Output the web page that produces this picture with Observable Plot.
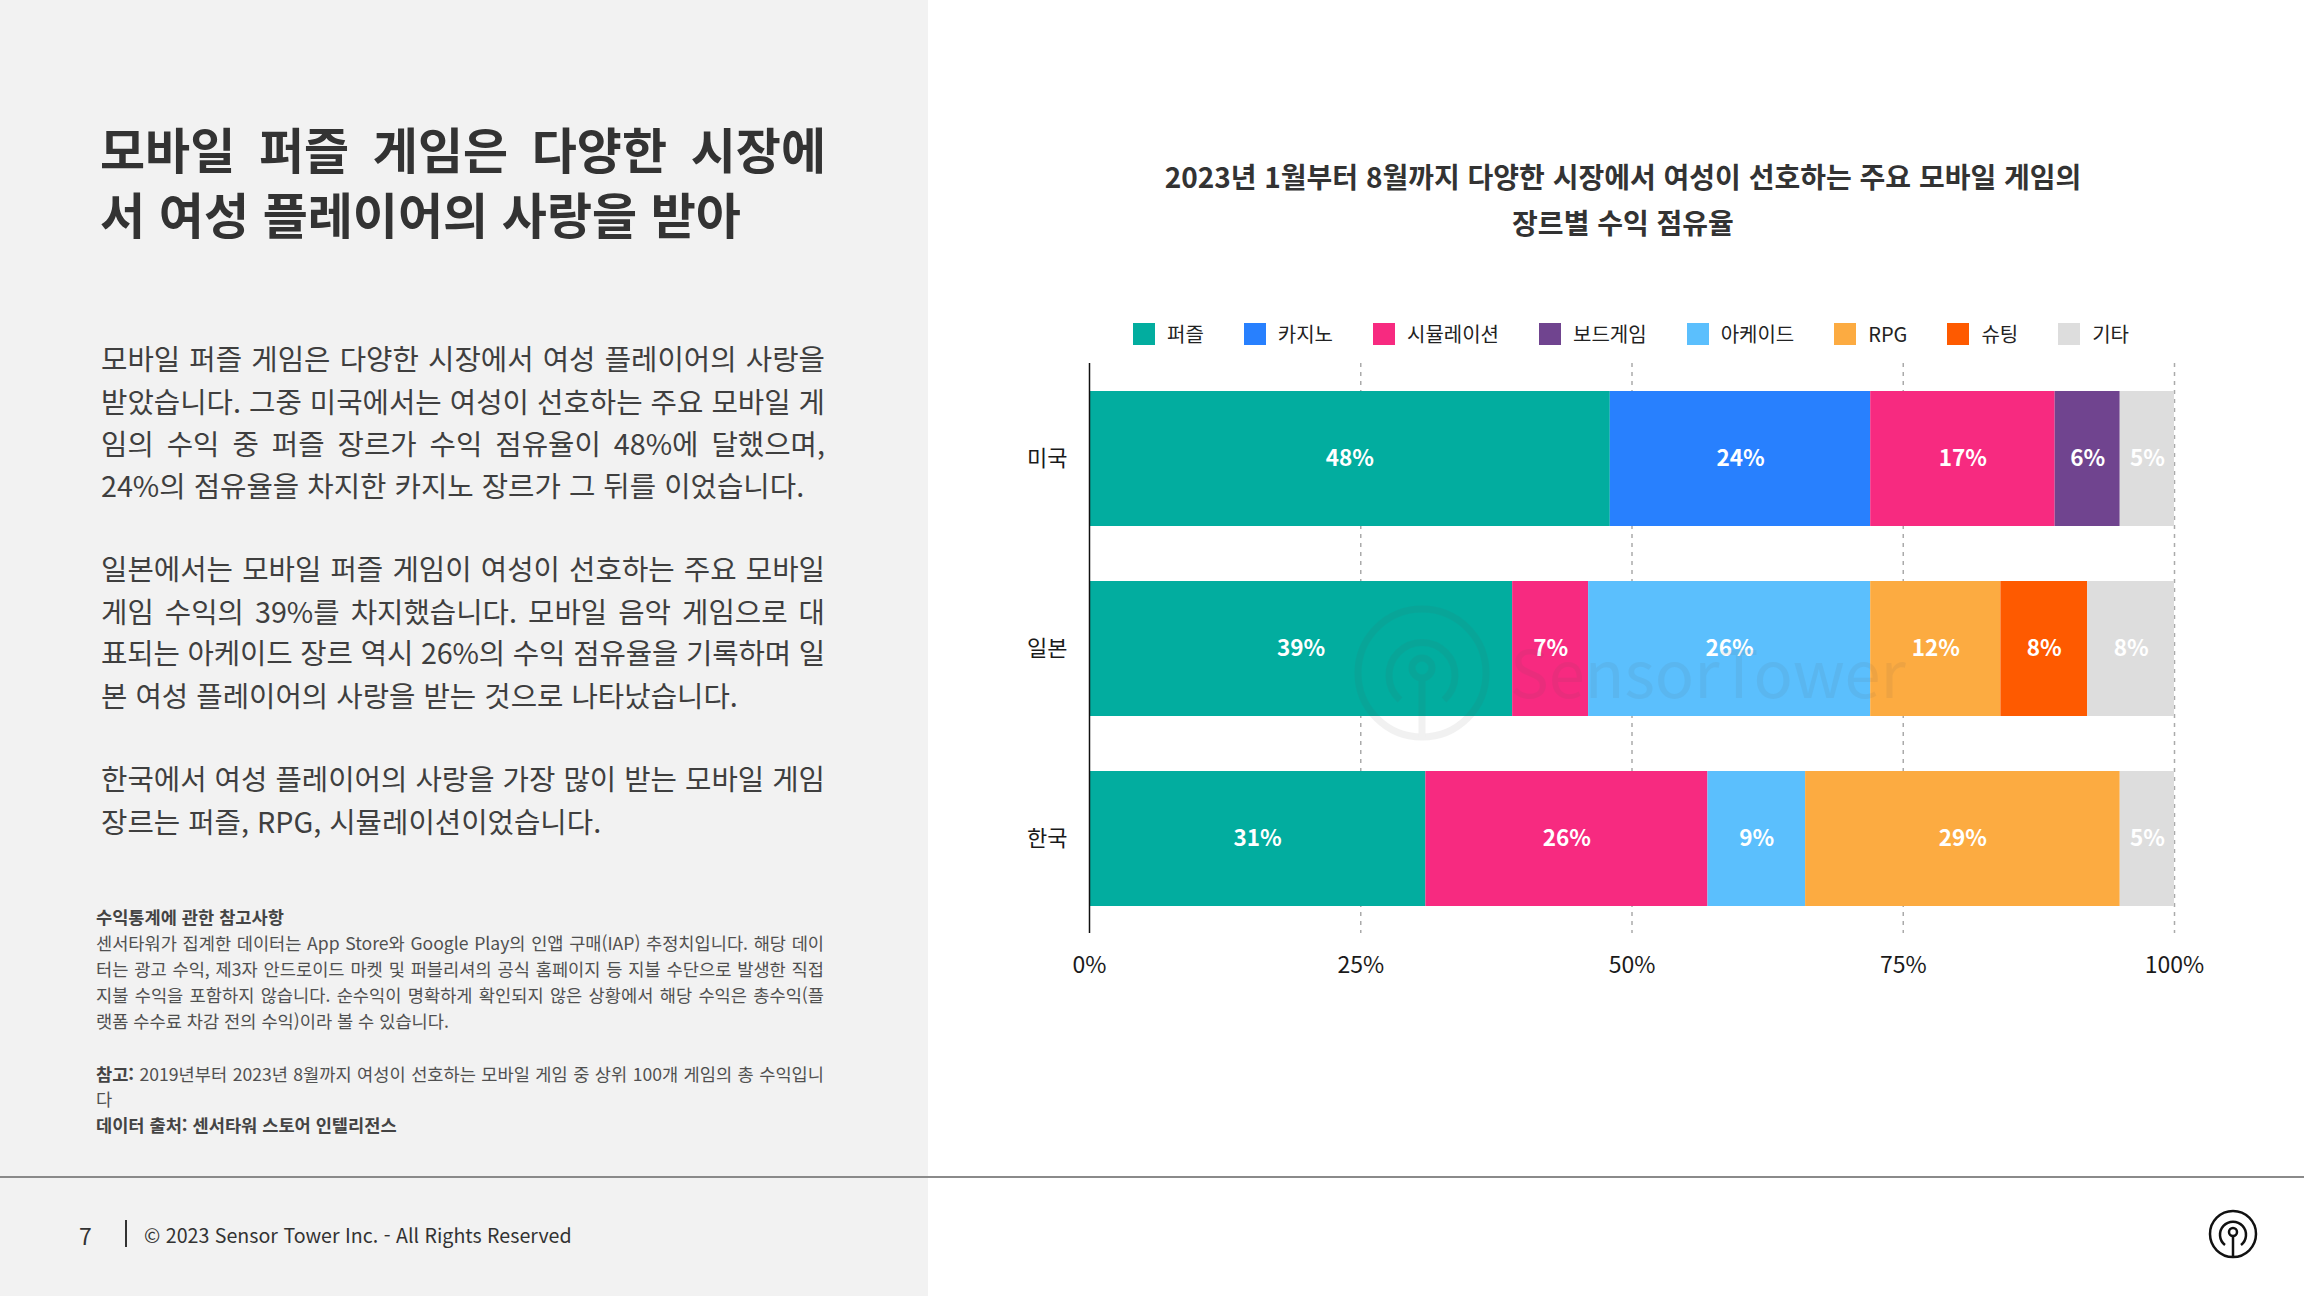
<!DOCTYPE html>
<html lang="ko">
<head>
<meta charset="utf-8">
<script src="https://cdn.jsdelivr.net/npm/d3@7"></script>
<script src="https://cdn.jsdelivr.net/npm/@observablehq/plot@0.6"></script>
<style>
  html, body { margin: 0; padding: 0; }
  body {
    width: 2304px; height: 1296px; position: relative; overflow: hidden;
    background: #ffffff;
    font-family: "Noto Sans CJK KR", "Noto Sans", sans-serif;
    color: #333;
  }
  .panel { position: absolute; left: 0; top: 0; width: 928px; height: 1296px; background: #f2f2f2; }
  .line { position: absolute; white-space: nowrap; }
  .just { text-align: justify; text-align-last: justify; }
  .head { font-size: 49px; font-weight: 700; color: #333; height: 64px; line-height: 64px; width: 726px; left: 100px; }
  .body { font-size: 28.7px; font-weight: 400; color: #3f3f3f; height: 42px; line-height: 42px; width: 724px; left: 101px; }
  .note { font-size: 17.6px; font-weight: 400; color: #505050; height: 26px; line-height: 26px; width: 728px; left: 96px; }
  .note b { font-weight: 700; color: #444; }
  .rule { position: absolute; left: 0; top: 1176px; width: 2304px; height: 2px; background: #8a8a8a; }
  .ctitle { position: absolute; left: 1023px; width: 1200px; text-align: center; font-size: 28px; font-weight: 700; color: #333; height: 46px; line-height: 46px; }
  #legend { position: absolute; top: 320px; left: 1131px; width: 1000px; display: flex; justify-content: center; gap: 40px; font-size: 20px; color: #222; height: 28px; line-height: 28px; }
  #legend .item { display: flex; align-items: center; gap: 12px; }
  #legend .sw { width: 22px; height: 22px; display: inline-block; }
  #chart { position: absolute; left: 960px; top: 350px; }
  .overlay { position: absolute; left: 0; top: 0; pointer-events: none; }
  .foot { position: absolute; color: #333; white-space: nowrap; }
</style>
</head>
<body>
<div class="panel"></div>

<!-- headline -->
<div class="line head just" style="top:116px">모바일 퍼즐 게임은 다양한 시장에</div>
<div class="line head" style="top:181px">서 여성 플레이어의 사랑을 받아</div>

<!-- body copy -->
<div class="line body just" style="top:337px">모바일 퍼즐 게임은 다양한 시장에서 여성 플레이어의 사랑을</div>
<div class="line body just" style="top:380px">받았습니다. 그중 미국에서는 여성이 선호하는 주요 모바일 게</div>
<div class="line body just" style="top:422px">임의 수익 중 퍼즐 장르가 수익 점유율이 48%에 달했으며,</div>
<div class="line body" style="top:464px">24%의 점유율을 차지한 카지노 장르가 그 뒤를 이었습니다.</div>

<div class="line body just" style="top:547px">일본에서는 모바일 퍼즐 게임이 여성이 선호하는 주요 모바일</div>
<div class="line body just" style="top:590px">게임 수익의 39%를 차지했습니다. 모바일 음악 게임으로 대</div>
<div class="line body just" style="top:631px">표되는 아케이드 장르 역시 26%의 수익 점유율을 기록하며 일</div>
<div class="line body" style="top:674px">본 여성 플레이어의 사랑을 받는 것으로 나타났습니다.</div>

<div class="line body just" style="top:757px">한국에서 여성 플레이어의 사랑을 가장 많이 받는 모바일 게임</div>
<div class="line body" style="top:800px">장르는 퍼즐, RPG, 시뮬레이션이었습니다.</div>

<!-- notes -->
<div class="line note" style="top:904px"><b>수익통계에 관한 참고사항</b></div>
<div class="line note just" style="top:930px">센서타워가 집계한 데이터는 App Store와 Google Play의 인앱 구매(IAP) 추정치입니다. 해당 데이</div>
<div class="line note just" style="top:956px">터는 광고 수익, 제3자 안드로이드 마켓 및 퍼블리셔의 공식 홈페이지 등 지불 수단으로 발생한 직접</div>
<div class="line note just" style="top:982px">지불 수익을 포함하지 않습니다. 순수익이 명확하게 확인되지 않은 상황에서 해당 수익은 총수익(플</div>
<div class="line note" style="top:1008px">랫폼 수수료 차감 전의 수익)이라 볼 수 있습니다.</div>
<div class="line note just" style="top:1061px"><b>참고:</b> 2019년부터 2023년 8월까지 여성이 선호하는 모바일 게임 중 상위 100개 게임의 총 수익입니</div>
<div class="line note" style="top:1086px">다</div>
<div class="line note" style="top:1112px"><b>데이터 출처: 센서타워 스토어 인텔리전스</b></div>

<div class="rule"></div>

<!-- footer -->
<div class="foot" style="left:79px; top:1219px; font-size:23px; line-height:32px;">7</div>
<div style="position:absolute; left:125px; top:1220px; width:1.5px; height:27px; background:#333;"></div>
<div class="foot" style="left:144px; top:1220px; font-size:19.6px; line-height:30px;">© 2023 Sensor Tower Inc. - All Rights Reserved</div>

<!-- chart title -->
<div class="ctitle" style="top:153px">2023년 1월부터 8월까지 다양한 시장에서 여성이 선호하는 주요 모바일 게임의</div>
<div class="ctitle" style="top:199px">장르별 수익 점유율</div>

<div id="legend"></div>
<div id="chart"></div>

<svg class="overlay" width="2304" height="1296">
  <!-- faint brand watermark over the plot -->
  <g opacity="0.08" fill="none" stroke="#555">
    <circle cx="1422" cy="673" r="64" stroke-width="7"/>
    <path d="M 1400 700 A 33 33 0 1 1 1444 700" stroke-width="7"/>
    <circle cx="1422" cy="668" r="10" stroke-width="7"/>
    <line x1="1422" y1="678" x2="1422" y2="737" stroke-width="7"/>
  </g>
  <text x="1510" y="698" font-family="Noto Sans CJK KR, sans-serif" font-size="65" fill="#555" opacity="0.08">SensorTower</text>
  <!-- footer brand mark -->
  <g fill="none" stroke="#111" stroke-width="2.5">
    <circle cx="2233" cy="1234" r="23"/>
    <path d="M 2225 1245 A 13 13 0 1 1 2241 1245"/>
    <circle cx="2233" cy="1232" r="4"/>
    <line x1="2233" y1="1236" x2="2233" y2="1257"/>
  </g>
</svg>

<script>
// Countries (bands) and genre stack order
const countries = ["미국", "일본", "한국"];
const genres = ["퍼즐", "카지노", "시뮬레이션", "보드게임", "아케이드", "RPG", "슈팅", "기타"];
const genreColors = ["#02ad9f", "#2880fe", "#f72a80", "#70448f", "#5bbffd", "#fcab41", "#fe5a00", "#dddddd"];

// Revenue share (%) by genre, Jan–Aug 2023
const usGenres = ["퍼즐", "카지노", "시뮬레이션", "보드게임", "기타"];
const usShares = [48, 24, 17, 6, 5];
const jpGenres = ["퍼즐", "시뮬레이션", "아케이드", "RPG", "슈팅", "기타"];
const jpShares = [39, 7, 26, 12, 8, 8];
const krGenres = ["퍼즐", "시뮬레이션", "아케이드", "RPG", "기타"];
const krShares = [31, 26, 9, 29, 5];

const xTicks = [0, 25, 50, 75, 100];

const rows = [
  ...usGenres.map((g, i) => ({country: "미국", genre: g, value: usShares[i]})),
  ...jpGenres.map((g, i) => ({country: "일본", genre: g, value: jpShares[i]})),
  ...krGenres.map((g, i) => ({country: "한국", genre: g, value: krShares[i]}))
];

// Legend
const legend = document.getElementById("legend");
genres.forEach((g, i) => {
  const item = document.createElement("div");
  item.className = "item";
  item.innerHTML = `<span class="sw" style="background:${genreColors[i]}"></span><span>${g}</span>`;
  legend.appendChild(item);
});

const chart = Plot.plot({
  width: 1300,
  height: 643,
  marginLeft: 129,
  marginRight: 86,
  marginTop: 13,
  marginBottom: 60,
  style: {
    fontFamily: "'Noto Sans CJK KR', sans-serif",
    fontSize: "20px",
    color: "#1a1a1a",
    background: "transparent",
    overflow: "visible"
  },
  x: {domain: [0, 100], label: null},
  y: {domain: countries, paddingInner: 0.29, paddingOuter: 0.145, label: null},
  color: {domain: genres, range: genreColors},
  marks: [
    Plot.ruleX(xTicks.filter(d => d > 0), {stroke: "#aaaaaa", strokeWidth: 1.5, strokeDasharray: "4,5"}),
    Plot.barX(rows, Plot.stackX({x: "value", y: "country", fill: "genre", order: genres})),
    Plot.text(rows, Plot.stackX({
      x: "value", y: "country", z: "genre", order: genres,
      text: d => `${d.value}%`,
      fill: "white", fontWeight: 700, fontSize: 22.5
    })),
    Plot.ruleX([0], {stroke: "#111", strokeWidth: 1.5}),
    Plot.axisX({ticks: xTicks, tickSize: 0, tickPadding: 23, tickFormat: d => `${d}%`, fontSize: 23, label: null}),
    Plot.axisY({tickSize: 0, tickPadding: 22, fontSize: 22, label: null})
  ]
});
document.getElementById("chart").appendChild(chart);

// Justified lines: tighten tracking when a line's natural width exceeds its box
function fitJustified() {
  document.querySelectorAll(".just").forEach(el => {
    const target = parseFloat(getComputedStyle(el).width);
    el.style.letterSpacing = "";
    el.style.width = "auto";
    el.style.textAlign = "left";
    el.style.textAlignLast = "left";
    const natural = el.getBoundingClientRect().width;
    const n = el.textContent.length;
    if (natural > target) el.style.letterSpacing = ((target - natural) / n) + "px";
    el.style.width = target + "px";
    el.style.textAlign = "";
    el.style.textAlignLast = "";
  });
}
fitJustified();
if (document.fonts && document.fonts.ready) document.fonts.ready.then(fitJustified);
</script>
</body>
</html>
